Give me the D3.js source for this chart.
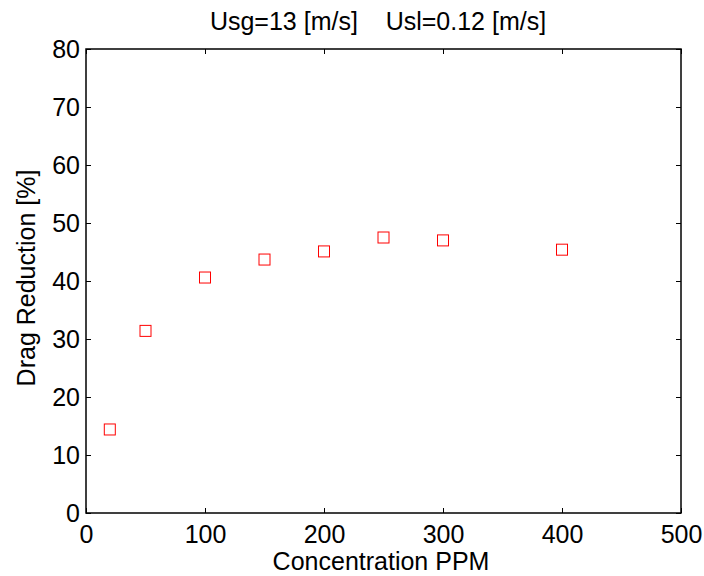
<!DOCTYPE html>
<html>
<head>
<meta charset="utf-8">
<script src="https://cdn.jsdelivr.net/npm/d3@7"></script>
<style>
  body { margin: 0; background: #fff; }
  svg { font-family: "Liberation Sans", Arial, sans-serif; }
</style>
</head>
<body>
<svg width="704" height="576"></svg>
<script>
// concentration (PPM) and drag reduction (%)
const concentration = [20, 50, 100, 150, 200, 250, 300, 400];
const dragReduction = [14.4, 31.4, 40.6, 43.7, 45.1, 47.5, 47.0, 45.4];

const xTicks = [0, 100, 200, 300, 400, 500];
const yTicks = [0, 10, 20, 30, 40, 50, 60, 70, 80];

const titleText = "Usg=13 [m/s]    Usl=0.12 [m/s]";
const xLabel = "Concentration PPM";
const yLabel = "Drag Reduction [%]";

let plotLeft = 86, plotRight = 681, plotTop = 49, plotBottom = 513;

let svg = d3.select("svg");

let xScale = d3.scaleLinear().domain([0, 500]).range([plotLeft, plotRight]);
let yScale = d3.scaleLinear().domain([0, 80]).range([plotBottom, plotTop]);

// ticks inside the box, matlab style
const xAxis = d3.axisBottom(xScale).tickValues(xTicks).tickSizeInner(-5).tickSizeOuter(0).tickPadding(12);
const yAxis = d3.axisLeft(yScale).tickValues(yTicks).tickSizeInner(-5).tickSizeOuter(0).tickPadding(6);
const xTop = d3.axisTop(xScale).tickValues(xTicks).tickSizeInner(-5).tickSizeOuter(0).tickFormat("");
const yRight = d3.axisRight(yScale).tickValues(yTicks).tickSizeInner(-5).tickSizeOuter(0).tickFormat("");

const styleAxis = g => {
  g.select(".domain").remove();
  g.selectAll("line").attr("stroke", "#000");
  g.selectAll("text").attr("font-size", 25).attr("fill", "#000")
   .attr("font-family", "Liberation Sans, Arial, sans-serif");
};

svg.append("g").attr("transform", `translate(0,${plotBottom})`).call(xAxis).call(styleAxis);
svg.append("g").attr("transform", `translate(${plotLeft},0)`).call(yAxis).call(styleAxis);
svg.append("g").attr("transform", `translate(0,${plotTop})`).call(xTop).call(styleAxis);
svg.append("g").attr("transform", `translate(${plotRight},0)`).call(yRight).call(styleAxis);

svg.append("rect")
   .attr("x", plotLeft).attr("y", plotTop)
   .attr("width", plotRight - plotLeft).attr("height", plotBottom - plotTop)
   .attr("fill", "none").attr("stroke", "#000").attr("stroke-width", 1.5);

let sz = 11;
svg.selectAll("rect.pt")
   .data(concentration.map((c, i) => ({ c: c, v: dragReduction[i] })))
   .enter()
   .append("rect")
   .attr("class", "pt")
   .attr("x", d => xScale(d.c) - sz / 2)
   .attr("y", d => yScale(d.v) - sz / 2)
   .attr("width", sz).attr("height", sz)
   .attr("fill", "none").attr("stroke", "#ff0000").attr("stroke-width", 1);

svg.append("text")
   .attr("x", 378).attr("y", 30)
   .attr("text-anchor", "middle").attr("font-size", 25)
   .attr("xml:space", "preserve").style("white-space", "pre")
   .text(titleText);

svg.append("text")
   .attr("x", 381).attr("y", 570)
   .attr("text-anchor", "middle").attr("font-size", 25)
   .text(xLabel);

svg.append("text")
   .attr("transform", `translate(35,278) rotate(-90)`)
   .attr("text-anchor", "middle").attr("font-size", 25)
   .text(yLabel);
</script>
</body>
</html>
